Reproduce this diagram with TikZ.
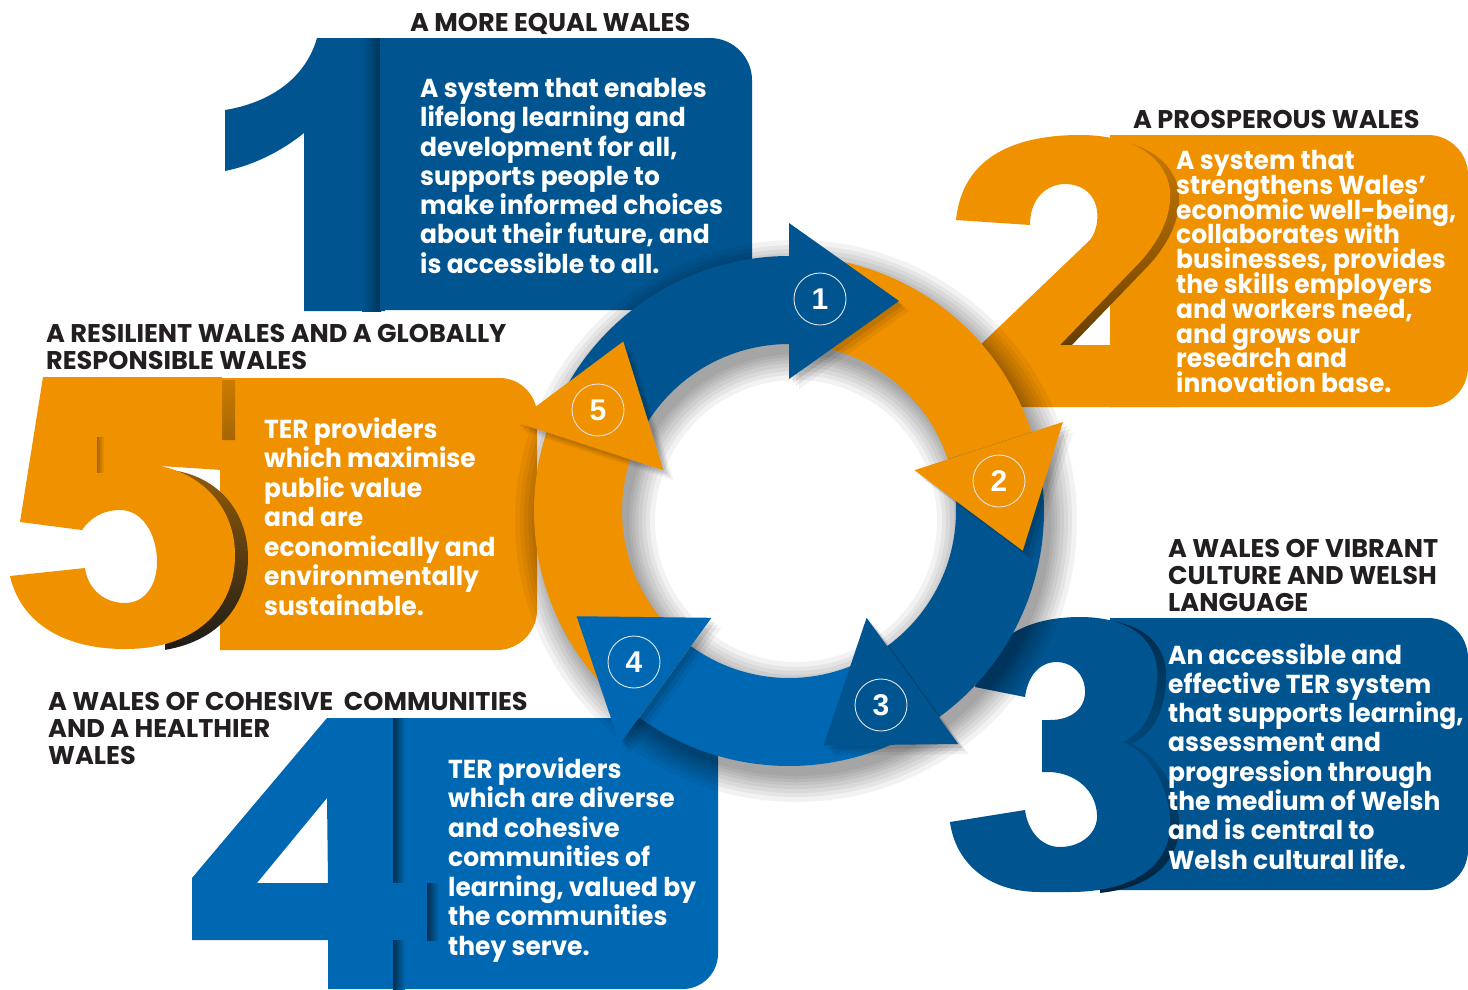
\documentclass[tikz,border=0pt]{standalone}
\usepackage{fontspec}
\setmainfont{Poppins}[FakeStretch=0.96]
\newfontfamily\ttlfont{Poppins}
\newfontfamily\numfont{Liberation Sans}
\newcommand\tightls{\lineskiplimit-20pt\relax}
\definecolor{dblue}{RGB}{0,85,145}
\definecolor{lblue}{RGB}{0,104,178}
\definecolor{worange}{RGB}{240,145,0}
\definecolor{ttl}{RGB}{35,31,32}
\begin{document}
\begin{tikzpicture}[x=1pt,y=-1pt,
  bodytxt/.style={text=white, font=\bfseries\fontsize{26}{29.3}\selectfont\tightls, align=left, inner sep=0pt, anchor=north west},
  ttlsty/.style={text=ttl, font=\ttlfont\bfseries\fontsize{25.6}{27}\selectfont\tightls, align=left, inner sep=0pt, anchor=north west},
  numc/.style={circle, draw=white!80!gray, line width=0.9pt, minimum size=52pt, inner sep=0pt, text=white, font=\numfont\bfseries\fontsize{30}{30}\selectfont}]
\useasboundingbox (0,0) rectangle (1468,989);
\fill[white] (0,0) rectangle (1468,989);

% ---------- panel 1 ----------
\fill[dblue] (317,38) .. controls (305,80) and (268,103) .. (225,110) -- (225,171) .. controls (255,165) and (283,150) .. (304,133) -- (304,311) -- (385,311) -- (385,38) -- cycle;
\shade[left color=dblue, right color=dblue!60!black] (362,38) rectangle (381,311);
\fill[dblue] (380,38) -- (710,38) .. controls (733,38) and (752,57) .. (752,80) -- (752,310) -- (380,310) -- cycle;

% ---------- panel 2 ----------
\fill[worange] (1110,135) -- (1428,135) .. controls (1450,135) and (1468,153) .. (1468,175) -- (1468,367) .. controls (1468,389) and (1450,407) .. (1428,407) -- (1110,407) -- cycle;
\begin{scope}
\clip (1098,100) -- (1200,100) -- (1200,345) -- (1050,345) -- (1098,250) -- cycle;
\shade[top color=worange!85!black, bottom color=worange!30!black, shift={(9,3)}]
 (1090,240) -- (975,350) -- (975,407) -- (1180,407) -- (1180,345) -- (1060,345) -- (1140,262) .. controls (1160,240) and (1172,215) .. (1170,190) .. controls (1165,155) and (1130,135) .. (1080,135) -- cycle;
\end{scope}
\fill[worange] (956,220) -- (1030,225) .. controls (1030,195) and (1050,184) .. (1065,184) .. controls (1085,184) and (1100,198) .. (1097,222) .. controls (1096,230) and (1093,236) .. (1090,240) -- (975,350) -- (975,407) -- (1180,407) -- (1180,345) -- (1060,345) -- (1140,262) .. controls (1160,240) and (1172,215) .. (1170,190) .. controls (1165,155) and (1130,135) .. (1080,135) .. controls (1010,135) and (962,160) .. (956,220) -- cycle;

% ---------- panel 3 ----------
\fill[dblue] (1110,618) -- (1428,618) .. controls (1450,618) and (1468,636) .. (1468,658) -- (1468,850) .. controls (1468,872) and (1450,890) .. (1428,890) -- (1110,890) -- cycle;
\begin{scope}
\clip (1100,600) rectangle (1200,900);
\shade[top color=dblue!50!black, bottom color=dblue!40!black, middle color=dblue!88!black, shift={(9,2)}]
 (1080,617) .. controls (1130,617) and (1160,640) .. (1157,680) .. controls (1155,715) and (1140,735) .. (1122,742) .. controls (1150,752) and (1172,790) .. (1170,830) .. controls (1165,875) and (1120,892) .. (1070,892) -- (1040,892) .. controls (985,892) and (955,860) .. (950,822) -- cycle;
\end{scope}
\fill[dblue] (1080,617) .. controls (1130,617) and (1160,640) .. (1157,680) .. controls (1155,715) and (1140,735) .. (1122,742) .. controls (1150,752) and (1172,790) .. (1170,830) .. controls (1165,875) and (1120,892) .. (1070,892) -- (1040,892) .. controls (985,892) and (955,860) .. (950,822) -- (1025,810) .. controls (1028,832) and (1042,847) .. (1060,847) .. controls (1082,847) and (1098,832) .. (1097,815) .. controls (1096,790) and (1075,773) .. (1050,772) -- (1042,772) -- (1042,720) -- (1050,720) .. controls (1072,720) and (1086,708) .. (1085,690) .. controls (1084,672) and (1070,662) .. (1057,662) .. controls (1040,662) and (1028,675) .. (1025,697) -- (975,687) .. controls (985,640) and (1025,617) .. (1080,617) -- cycle;

% ---------- panel 4 ----------
\fill[lblue] (393,718) -- (678,718) .. controls (700,718) and (718,736) .. (718,758) -- (718,954) .. controls (718,973) and (702,989) .. (683,989) -- (393,989) -- cycle;
\fill[lblue, even odd rule] (327,718) -- (192,878) -- (192,940) -- (328,940) -- (328,989) -- (393,989) -- (393,718) -- cycle (327,798) -- (257,883) -- (328,883) -- cycle;
\shade[left color=lblue!45!black, right color=lblue] (393,718) rectangle (405,883);
\shade[left color=lblue!45!black, right color=lblue] (393,940) rectangle (405,989);
\fill[lblue] (393,883) rectangle (427,940);
\shade[left color=lblue!45!black, right color=lblue] (427,883) rectangle (439,940);

% ---------- panel 5 ----------
\fill[worange] (220,378) -- (500,378) .. controls (520,378) and (537,395) .. (537,415) -- (537,610) .. controls (537,632) and (519,650) .. (497,650) -- (220,650) -- cycle;
\begin{scope}
\clip (165,370) rectangle (300,660);
\shade[top color=worange!85!black, bottom color=black!90, shift={(13,3)}]
 (43,377) -- (222,377) -- (222,437) -- (100,437) -- (97,474) .. controls (113,468) and (128,466) .. (143,466) .. controls (200,466) and (235,505) .. (235,555) .. controls (235,610) and (195,649) .. (125,649) .. controls (60,649) and (20,620) .. (10,576) -- cycle;
\end{scope}
\fill[worange] (43,377) -- (222,377) -- (222,470) -- (160,466) .. controls (205,475) and (235,510) .. (235,555) .. controls (235,610) and (195,649) .. (125,649) .. controls (60,649) and (20,620) .. (10,576) -- (85,568) .. controls (88,590) and (105,603) .. (125,603) .. controls (145,603) and (157,585) .. (157,562) .. controls (157,535) and (143,510) .. (120,510) .. controls (103,510) and (90,518) .. (82,530) -- (20,522) -- cycle;
\shade[left color=worange!70!black, right color=worange] (97,437) rectangle (104,472);

% ---------- titles ----------
\node[ttlsty] (h1) at (410,13) {A MORE EQUAL WALES};
\node[ttlsty] (h2) at (1133,110) {A PROSPEROUS WALES};
\node[ttlsty] (h3) at (1168,539) {A WALES OF VIBRANT\\CULTURE AND WELSH\\LANGUAGE};
\node[ttlsty] (h4) at (48,692) {A WALES OF COHESIVE~ COMMUNITIES\\AND A HEALTHIER\\WALES};
\node[ttlsty] (h5) at (46,324) {A RESILIENT WALES AND A GLOBALLY\\RESPONSIBLE WALES};

% ---------- body texts ----------
\node[bodytxt] (b1) at (420,78) {A system that enables\\lifelong learning and\\development for all,\\supports people to\\make informed choices\\about their future, and\\is accessible to all.};
\node[bodytxt, font=\bfseries\fontsize{26}{24.8}\selectfont\tightls] (b2) at (1176,150) {A system that\\strengthens Wales’\\economic well-being,\\collaborates with\\businesses, provides\\the skills employers\\and workers need,\\and grows our\\research and\\innovation base.};
\node[bodytxt] (b3) at (1168,643) {An accessible and\\effective TER system\\that supports learning,\\assessment and\\progression through\\the medium of Welsh\\and is central to\\Welsh cultural life.};
\node[bodytxt, font=\bfseries\fontsize{26}{29.5}\selectfont\tightls] (b4) at (448,757) {TER providers\\which are diverse\\and cohesive\\communities of\\learning, valued by\\the communities\\they serve.};
\node[bodytxt, font=\bfseries\fontsize{26}{29.5}\selectfont\tightls] (b5) at (264,417) {TER providers\\which maximise\\public value\\and are\\economically and\\environmentally\\sustainable.};

% ---------- ring shadow ----------
\foreach \d in {26,21,17,13,9,6,3,0}{
  \fill[black, opacity=0.05, even odd rule] (796,521) circle[radius=255+\d] (796,521) circle[radius=167-\d];
}

% ---------- ring bodies ----------
\foreach \a/\b/\c in {162/90/dblue, 90/18/worange, 18/-54/dblue, -54/-126/lblue, -126/-198/worange}{
  \fill[\c] plot[domain=\a:\b,samples=60] ({789+255*cos(\x)},{511-255*sin(\x)}) -- plot[domain=\b:\a,samples=60] ({789+167*cos(\x)},{511-167*sin(\x)}) -- cycle;
}
% ---------- head shadows ----------
\foreach \t in {90,18,-54,-126,162}{
  \foreach \s/\o in {10/0.05,7/0.07,4/0.09}{
  \fill[black, opacity=\o] ({789+132*cos(\t)+\s},{511-132*sin(\t)+\s}) -- ({789+288*cos(\t)+\s},{511-288*sin(\t)+\s}) -- ({789+210*cos(\t)+110*sin(\t)+\s},{511-210*sin(\t)+110*cos(\t)+\s}) -- cycle;
  }
}
% ---------- heads ----------
\foreach \t/\c in {90/dblue, 18/worange, -54/dblue, -126/lblue, 162/worange}{
  \fill[\c] ({789+132*cos(\t)},{511-132*sin(\t)}) -- ({789+288*cos(\t)},{511-288*sin(\t)}) -- ({789+210*cos(\t)+110*sin(\t)},{511-210*sin(\t)+110*cos(\t)}) -- cycle;
}
% ---------- number circles ----------
\node[numc] (n1) at (820,299) {1};
\node[numc] (n2) at (999,481) {2};
\node[numc] (n3) at (881,705) {3};
\node[numc] (n4) at (634,662) {4};
\node[numc] (n5) at (598,410) {5};
\end{tikzpicture}
\end{document}
